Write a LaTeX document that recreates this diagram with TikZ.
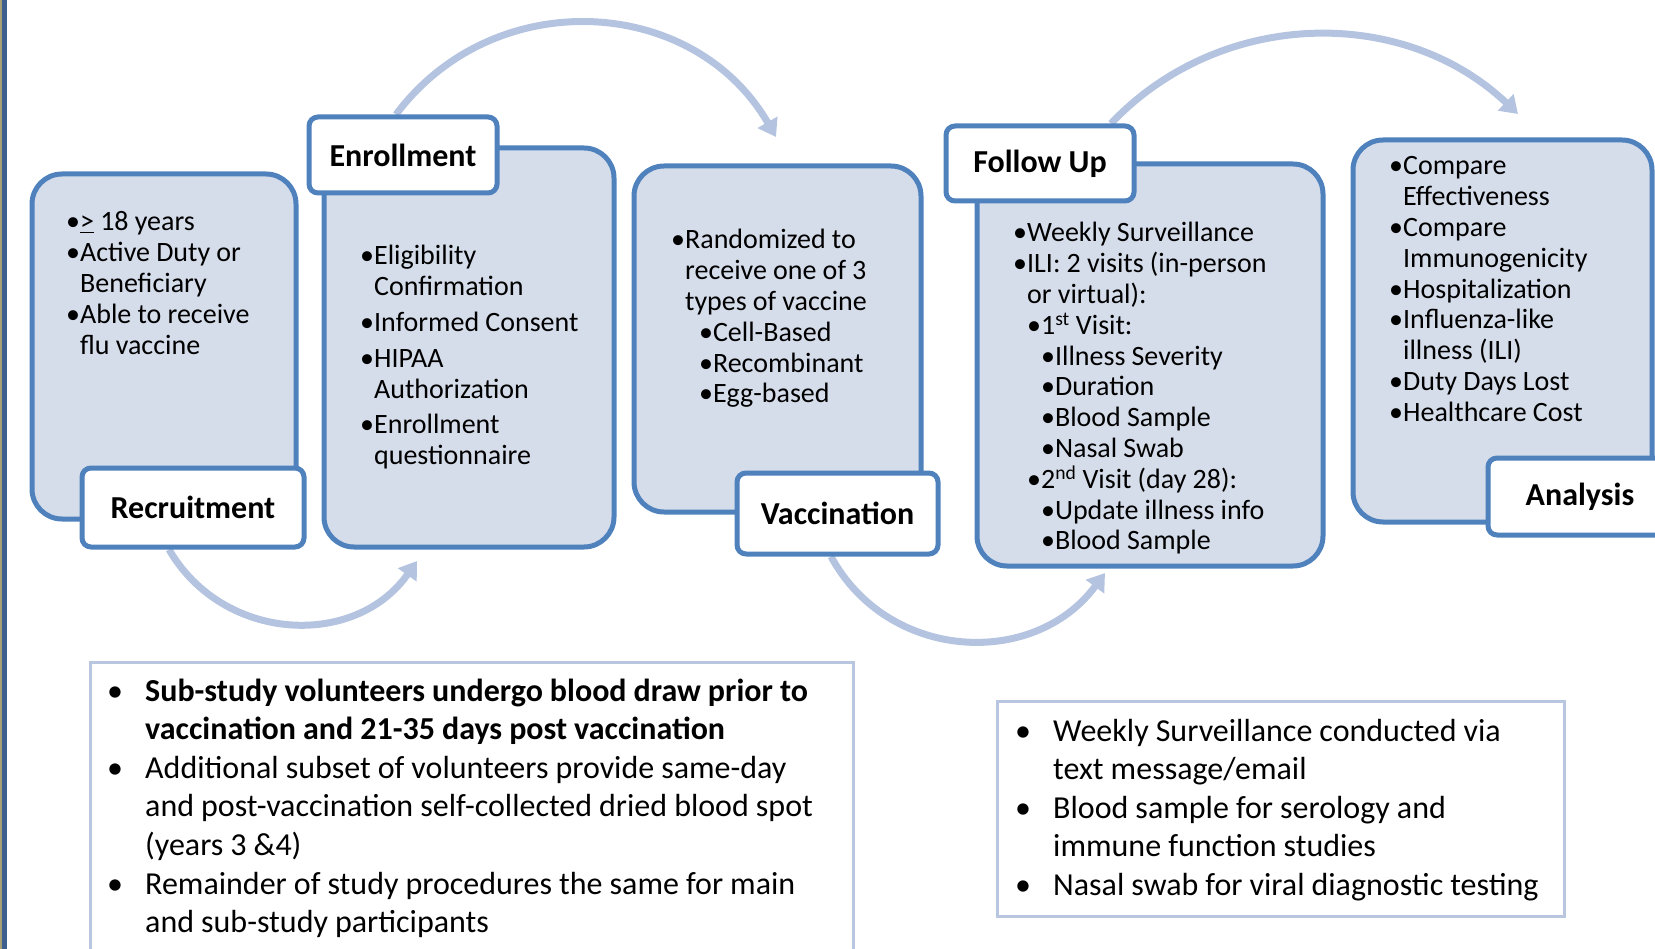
\documentclass[tikz,border=0pt]{standalone}
\usepackage{fontspec}
\setmainfont{Carlito}
\usetikzlibrary{arrows.meta,backgrounds}
\definecolor{stageline}{HTML}{4F81BD}
\definecolor{stagefill}{HTML}{D5DCEA}
\definecolor{flowline}{HTML}{B4C4E0}
\definecolor{noteline}{HTML}{B8C6DF}
\definecolor{barblue}{HTML}{3E5F8E}
\definecolor{bartan}{HTML}{A59F78}
\newcommand{\skipbul}{\hphantom{•}}
\newcommand{\notebul}{\makebox[38pt][l]{•}}
\newcommand{\noteskip}{\hspace*{38pt}}
\newcommand{\tightspace}{\frenchspacing\spaceskip=0.22em plus 0.1em minus 0.05em\relax}

\begin{document}
\begin{tikzpicture}[x=1pt,y=-1pt,
	stage/.style={draw=stageline,fill=stagefill,line width=5pt,rounded corners=30pt,inner sep=0pt},
	tag/.style={draw=stageline,fill=white,line width=5pt,rounded corners=9pt,inner sep=0pt,
		font=\fontsize{32}{38}\selectfont\bfseries},
	items/.style={anchor=base west,inner sep=0pt,align=flush left,text width=330pt,
		font=\fontsize{28}{30.8}\selectfont\tightspace},
	note/.style={draw=noteline,line width=3pt,inner sep=0pt},
	notetext/.style={anchor=base west,inner sep=0pt,align=flush left,text width=760pt,
		font=\fontsize{32}{38.6}\selectfont\tightspace},
	flow/.style={draw=flowline,line width=7pt,-{Triangle[width=22pt,length=17pt]}}]
\useasboundingbox (0,0) rectangle (1655,949);
\clip (0,0) rectangle (1655,949);
\fill[bartan] (0,0) rectangle (2,949);
\fill[barblue] (2,0) rectangle (7,949);

\node[stage,minimum width=264pt,minimum height=345pt] (rec) at (164,346.5) {};
\node[stage,minimum width=290pt,minimum height=399pt] (enr) at (469,347.5) {};
\node[stage,minimum width=287pt,minimum height=346pt] (vac) at (777.5,339) {};
\node[stage,minimum width=346pt,minimum height=402pt] (fol) at (1150,365) {};
\node[stage,minimum width=299pt,minimum height=382pt] (ana) at (1502.5,331) {};

\node[tag,minimum width=222pt,minimum height=79pt] (rectag) at (193,507.5) {Recruitment};
\node[tag,minimum width=188pt,minimum height=76pt] (enrtag) at (403,155) {Enrollment};
\node[tag,minimum width=201pt,minimum height=81pt] (vactag) at (837.5,513.5) {Vaccination};
\node[tag,minimum width=188pt,minimum height=75pt] (foltag) at (1040,163.5) {Follow Up};
\node[tag,minimum width=184pt,minimum height=77pt] (anatag) at (1580,496.5) {Analysis};

\node[items] (rectxt) at (66,231) {•\underline{>} 18 years\\
	•Active Duty or\\
	\skipbul Beneficiary\\
	•Able to receive\\
	\skipbul flu vaccine};
\node[items] (enrtxt) at (360,265) {•Eligibility\\
	\skipbul Confirmation\\[5pt]
	•Informed Consent\\[5pt]
	•HIPAA\\
	\skipbul Authorization\\[5pt]
	•Enrollment\\
	\skipbul questionnaire};
\node[items] (vactxt) at (671,249) {•Randomized to\\
	\skipbul receive one of 3\\
	\skipbul types of vaccine\\
	\skipbul\skipbul•Cell-Based\\
	\skipbul\skipbul•Recombinant\\
	\skipbul\skipbul•Egg-based};
\node[items] (foltxt) at (1013,242) {•Weekly Surveillance\\
	•ILI: 2 visits (in-person\\
	\skipbul or virtual):\\
	\skipbul•1\textsuperscript{st} Visit:\\
	\skipbul\skipbul•Illness Severity\\
	\skipbul\skipbul•Duration\\
	\skipbul\skipbul•Blood Sample\\
	\skipbul\skipbul•Nasal Swab\\
	\skipbul•2\textsuperscript{nd} Visit (day 28):\\
	\skipbul\skipbul•Update illness info\\
	\skipbul\skipbul•Blood Sample};
\node[items] (anatxt) at (1389,175) {•Compare\\
	\skipbul Effectiveness\\
	•Compare\\
	\skipbul Immunogenicity\\
	•Hospitalization\\
	•Influenza-like\\
	\skipbul illness (ILI)\\
	•Duty Days Lost\\
	•Healthcare Cost};

\node[note,minimum width=763pt,minimum height=298pt] (subnote) at (471.5,811) {};
\node[note,minimum width=567pt,minimum height=215pt] (survnote) at (1280.5,808.5) {};

\node[notetext] (subtxt) at (107,701) {\notebul\textbf{Sub-study volunteers undergo blood draw prior to}\\
	\noteskip\textbf{vaccination and 21-35 days post vaccination}\\
	\notebul Additional subset of volunteers provide same-day\\
	\noteskip and post-vaccination self-collected dried blood spot\\
	\noteskip(years 3 \&4)\\
	\notebul Remainder of study procedures the same for main\\
	\noteskip and sub-study participants};
\node[notetext] (survtxt) at (1015,741) {\notebul Weekly Surveillance conducted via\\
	\noteskip text message/email\\
	\notebul Blood sample for serology and\\
	\noteskip immune function studies\\
	\notebul Nasal swab for viral diagnostic testing};

\coordinate (f1) at (417,561);
\coordinate (f2) at (776,137);
\coordinate (f3) at (1105,573);
\coordinate (f4) at (1518,114);
\begin{scope}[on background layer]
\draw[flow] ([xshift=-24pt]rectag.south) .. controls +(54,93) and +(-62,88) .. (f1);
\draw[flow] ([xshift=-7pt]enrtag.north) .. controls +(98,-131) and +(-82,-142) .. (f2);
\draw[flow] ([xshift=-6.5pt]vactag.south) .. controls +(57,105) and +(-71,96) .. (f3);
\draw[flow] ([xshift=71pt]foltag.north) .. controls +(109,-115) and +(-115,-109) .. (f4);
\end{scope}
\end{tikzpicture}
\end{document}
